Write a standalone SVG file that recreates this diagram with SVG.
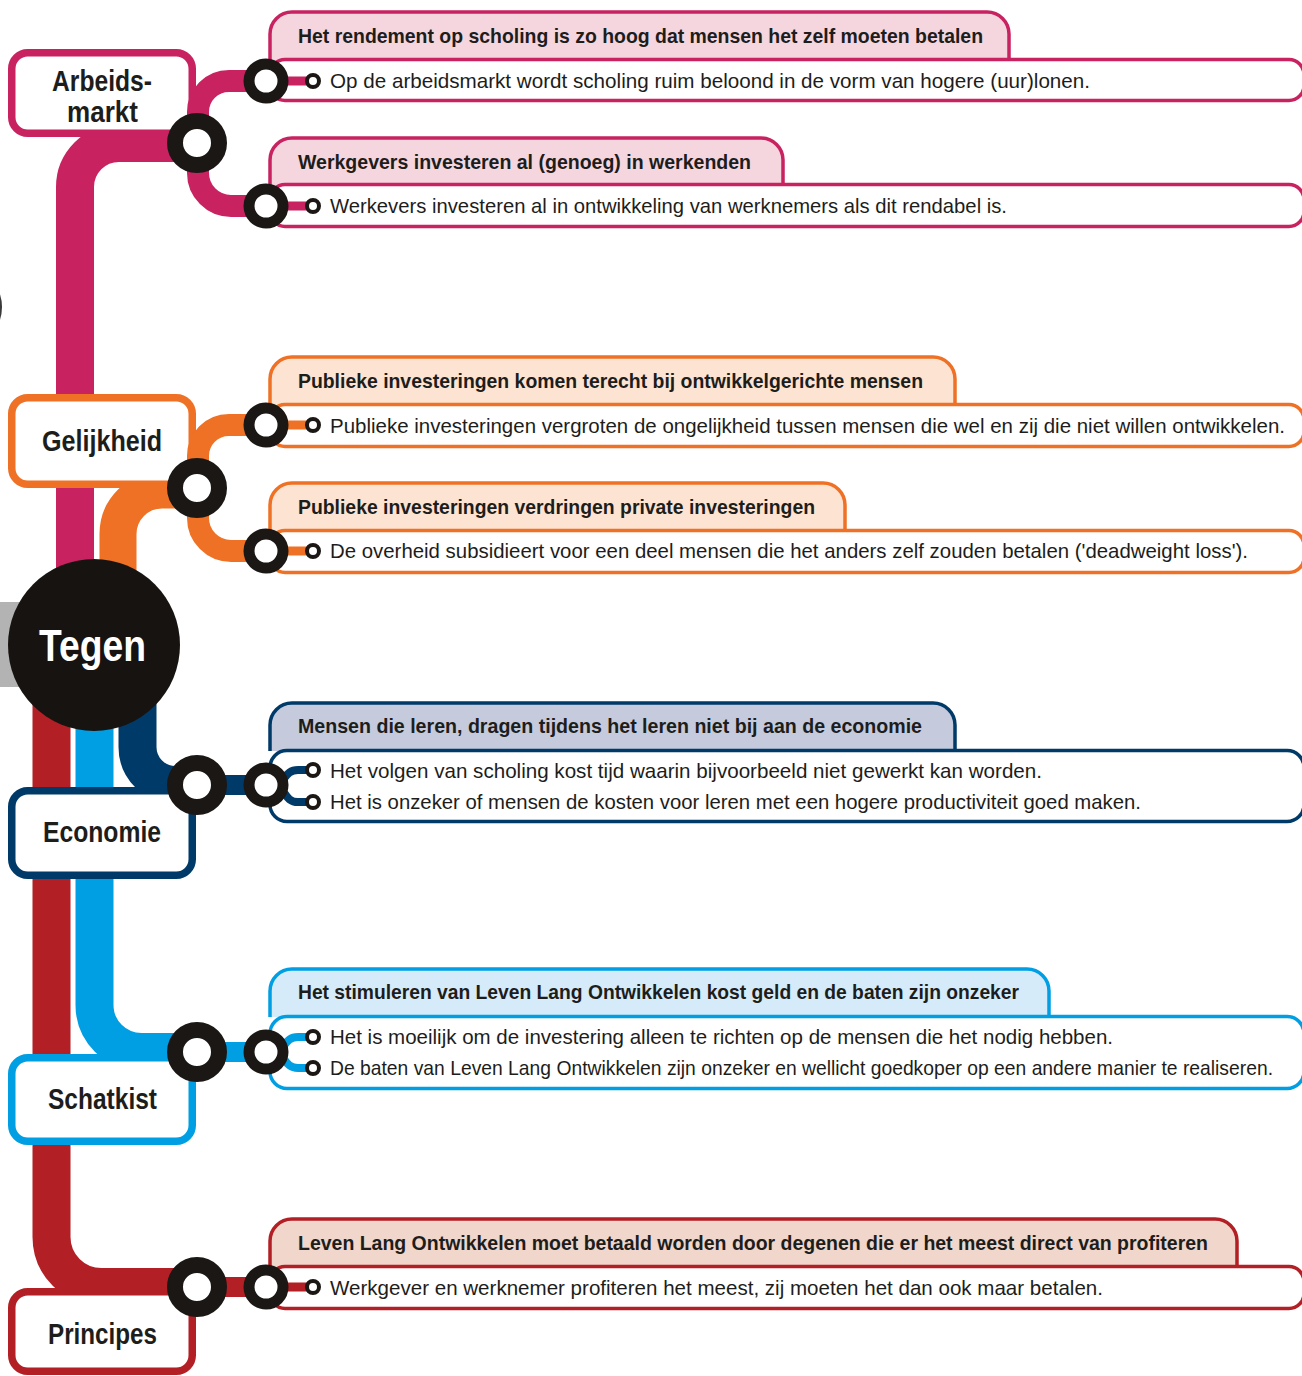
<svg xmlns="http://www.w3.org/2000/svg" width="1302" height="1376" viewBox="0 0 1302 1376">
<style>
.trunk{fill:none;stroke-width:38}
.br{fill:none;stroke-width:22}
.st{fill:none;stroke-width:20}
.bl{fill:none;stroke-width:9}
.bl2{fill:none;stroke-width:8}
.cat{fill:#fff;stroke-width:7.5}
.tab{stroke-width:3.5}
.body{fill:#fff;stroke-width:3.5}
.node{fill:#fff;stroke:#1a1715;stroke-width:16}
.ring{fill:#fff;stroke:#1a1715;stroke-width:11}
.dot{fill:#fff;stroke:#1a1715;stroke-width:4}
.lbl{font-family:"Liberation Sans Narrow","Liberation Sans",Arial,sans-serif;font-weight:bold;font-size:29px;fill:#1d1d1b;text-anchor:start}
.ttl{font-family:"Liberation Sans Narrow","Liberation Sans",Arial,sans-serif;font-weight:bold;font-size:21px;fill:#1d1d1b}
.txt{font-family:"Liberation Sans Narrow","Liberation Sans",Arial,sans-serif;font-size:21px;fill:#1d1d1b}
.m{stroke:#c82360}.o{stroke:#ee7125}.n{stroke:#003a68}.b{stroke:#009fe3}.r{stroke:#b21f24}
</style>
<rect x="0" y="0" width="1302" height="1376" fill="#fff"/>
<circle cx="-40" cy="307" r="42" fill="#3a3a3a"/>
<rect x="0" y="602" width="70" height="85" fill="#b3b3b3"/>

<g id="connectors">
  <path class="trunk m" d="M197 143 H119 A44 44 0 0 0 75 187 V640"/>
  <path class="trunk o" style="stroke-width:37" d="M197 490 H162 A44 44 0 0 0 118 534 V640"/>
  <path class="trunk r" d="M51.5 640 V1237 A50 50 0 0 0 101.5 1287 H197"/>
  <path class="trunk b" d="M94.5 640 V1005 A47 47 0 0 0 141.5 1052 H197"/>
  <path class="trunk n" d="M137.5 640 V747 A38 38 0 0 0 175.5 785 H197"/>
</g>

<g id="node-tegen">
  <circle cx="94" cy="645" r="86" fill="#161311"/>
  <text x="39" y="661" font-family="Liberation Sans Narrow,Liberation Sans,Arial,sans-serif" font-weight="bold" font-size="44" fill="#fff" textLength="107" lengthAdjust="spacingAndGlyphs">Tegen</text>
</g>

<g id="node-arbeidsmarkt">
  <rect class="cat m" x="11.75" y="52.75" width="180.5" height="80.5" rx="16"/>
  <text class="lbl" x="52" y="91" textLength="100" lengthAdjust="spacingAndGlyphs">Arbeids-</text>
  <text class="lbl" x="67" y="122" textLength="71" lengthAdjust="spacingAndGlyphs">markt</text>
</g>
<g id="node-gelijkheid">
  <rect class="cat o" x="11.75" y="397.75" width="180.5" height="86.5" rx="16"/>
  <text class="lbl" x="42" y="451" textLength="120" lengthAdjust="spacingAndGlyphs">Gelijkheid</text>
</g>
<g id="node-economie">
  <rect class="cat n" x="11.75" y="790.75" width="180.5" height="84.5" rx="16"/>
  <text class="lbl" x="43" y="842" textLength="118" lengthAdjust="spacingAndGlyphs">Economie</text>
</g>
<g id="node-schatkist">
  <rect class="cat b" x="11.75" y="1057.75" width="180.5" height="83.5" rx="16"/>
  <text class="lbl" x="48" y="1109" textLength="109" lengthAdjust="spacingAndGlyphs">Schatkist</text>
</g>
<g id="node-principes">
  <rect class="cat r" x="11.75" y="1291.75" width="180.5" height="79.5" rx="16"/>
  <text class="lbl" x="48" y="1344" textLength="109" lengthAdjust="spacingAndGlyphs">Principes</text>
</g>

<!-- Arbeidsmarkt items -->
<g id="item-a1">
  <path class="tab m" fill="#f5d6df" d="M270 60 V34 A22 22 0 0 1 292 12 H987 A22 22 0 0 1 1009 34 V60"/>
  <rect class="body m" x="270" y="59.5" width="1034" height="41" rx="15"/>
  <text class="ttl" x="298" y="43" textLength="685" lengthAdjust="spacingAndGlyphs">Het rendement op scholing is zo hoog dat mensen het zelf moeten betalen</text>
  <text class="txt" x="330" y="88" textLength="760" lengthAdjust="spacingAndGlyphs">Op de arbeidsmarkt wordt scholing ruim beloond in de vorm van hogere (uur)lonen.</text>
</g>
<g id="item-a2">
  <path class="tab m" fill="#f5d6df" d="M270 185 V160 A22 22 0 0 1 292 138 H761 A22 22 0 0 1 783 160 V185"/>
  <rect class="body m" x="270" y="184.5" width="1034" height="42" rx="15"/>
  <text class="ttl" x="298" y="169" textLength="453" lengthAdjust="spacingAndGlyphs">Werkgevers investeren al (genoeg) in werkenden</text>
  <text class="txt" x="330" y="213" textLength="677" lengthAdjust="spacingAndGlyphs">Werkevers investeren al in ontwikkeling van werknemers als dit rendabel is.</text>
</g>
<!-- Gelijkheid items -->
<g id="item-g1">
  <path class="tab o" fill="#fde4d2" d="M270 405 V379 A22 22 0 0 1 292 357 H933 A22 22 0 0 1 955 379 V405"/>
  <rect class="body o" x="270" y="404.5" width="1034" height="42" rx="15"/>
  <text class="ttl" x="298" y="388" textLength="625" lengthAdjust="spacingAndGlyphs">Publieke investeringen komen terecht bij ontwikkelgerichte mensen</text>
  <text class="txt" x="330" y="433" textLength="955" lengthAdjust="spacingAndGlyphs">Publieke investeringen vergroten de ongelijkheid tussen mensen die wel en zij die niet willen ontwikkelen.</text>
</g>
<g id="item-g2">
  <path class="tab o" fill="#fde4d2" d="M270 531 V505 A22 22 0 0 1 292 483 H823 A22 22 0 0 1 845 505 V531"/>
  <rect class="body o" x="270" y="530.5" width="1034" height="42" rx="15"/>
  <text class="ttl" x="298" y="514" textLength="517" lengthAdjust="spacingAndGlyphs">Publieke investeringen verdringen private investeringen</text>
  <text class="txt" x="330" y="558" textLength="918" lengthAdjust="spacingAndGlyphs">De overheid subsidieert voor een deel mensen die het anders zelf zouden betalen ('deadweight loss').</text>
</g>
<!-- Economie -->
<g id="item-e1">
  <path class="tab n" fill="#c5cbdd" d="M270 751 V725 A22 22 0 0 1 292 703 H933 A22 22 0 0 1 955 725 V751"/>
  <rect class="body n" x="270" y="750.5" width="1034" height="71" rx="17"/>
  <text class="ttl" x="298" y="733" textLength="624" lengthAdjust="spacingAndGlyphs">Mensen die leren, dragen tijdens het leren niet bij aan de economie</text>
  <text class="txt" x="330" y="778" textLength="712" lengthAdjust="spacingAndGlyphs">Het volgen van scholing kost tijd waarin bijvoorbeeld niet gewerkt kan worden.</text>
  <text class="txt" x="330" y="809" textLength="811" lengthAdjust="spacingAndGlyphs">Het is onzeker of mensen de kosten voor leren met een hogere productiviteit goed maken.</text>
</g>
<!-- Schatkist -->
<g id="item-s1">
  <path class="tab b" fill="#d5ebfa" d="M270 1017 V991 A22 22 0 0 1 292 969 H1027 A22 22 0 0 1 1049 991 V1017"/>
  <rect class="body b" x="270" y="1016.5" width="1034" height="72" rx="17"/>
  <text class="ttl" x="298" y="999" textLength="721" lengthAdjust="spacingAndGlyphs">Het stimuleren van Leven Lang Ontwikkelen kost geld en de baten zijn onzeker</text>
  <text class="txt" x="330" y="1044" textLength="783" lengthAdjust="spacingAndGlyphs">Het is moeilijk om de investering alleen te richten op de mensen die het nodig hebben.</text>
  <text class="txt" x="330" y="1075" textLength="943" lengthAdjust="spacingAndGlyphs">De baten van Leven Lang Ontwikkelen zijn onzeker en wellicht goedkoper op een andere manier te realiseren.</text>
</g>
<!-- Principes -->
<g id="item-p1">
  <path class="tab r" fill="#f0d6cb" d="M270 1267 V1241 A22 22 0 0 1 292 1219 H1215 A22 22 0 0 1 1237 1241 V1267"/>
  <rect class="body r" x="270" y="1266.5" width="1034" height="42" rx="15"/>
  <text class="ttl" x="298" y="1250" textLength="910" lengthAdjust="spacingAndGlyphs">Leven Lang Ontwikkelen moet betaald worden door degenen die er het meest direct van profiteren</text>
  <text class="txt" x="330" y="1295" textLength="773" lengthAdjust="spacingAndGlyphs">Werkgever en werknemer profiteren het meest, zij moeten het dan ook maar betalen.</text>
</g>

<g id="branches">
  <path class="br m" d="M198 143 V112 A31 31 0 0 1 229 81 H266"/>
  <path class="br m" d="M198 143 V173 A33 33 0 0 0 231 206 H266"/>
  <path class="br o" d="M198 488 V456 A31 31 0 0 1 229 425 H266"/>
  <path class="br o" d="M198 488 V518 A33 33 0 0 0 231 551 H266"/>
  <path class="st n" d="M197 785 H266"/>
  <path class="st b" d="M197 1052 H266"/>
  <path class="st r" d="M197 1287 H266"/>
  <path class="bl m" d="M266 81 H313"/>
  <path class="bl m" d="M266 206 H313"/>
  <path class="bl o" d="M266 425 H313"/>
  <path class="bl o" d="M266 551 H313"/>
  <path class="bl r" d="M266 1287 H313"/>
  <path class="bl2 n" d="M272 785 C286 785 283 770 298 770 H313"/>
  <path class="bl2 n" d="M272 785 C286 785 283 802 298 802 H313"/>
  <path class="bl2 b" d="M272 1052 C286 1052 283 1037 298 1037 H313"/>
  <path class="bl2 b" d="M272 1052 C286 1052 283 1068 298 1068 H313"/>
</g>

<g id="stations">
  <circle class="node" cx="197" cy="143" r="22"/>
  <circle class="node" cx="197" cy="488" r="22"/>
  <circle class="node" cx="197" cy="785" r="22"/>
  <circle class="node" cx="197" cy="1052" r="22"/>
  <circle class="node" cx="197" cy="1287" r="22"/>
  <circle class="ring" cx="266" cy="81" r="17"/>
  <circle class="ring" cx="266" cy="206" r="17"/>
  <circle class="ring" cx="266" cy="425" r="17"/>
  <circle class="ring" cx="266" cy="551" r="17"/>
  <circle class="ring" cx="266" cy="785" r="17"/>
  <circle class="ring" cx="266" cy="1052" r="17"/>
  <circle class="ring" cx="266" cy="1287" r="17"/>
  <circle class="dot" cx="313" cy="81" r="6"/>
  <circle class="dot" cx="313" cy="206" r="6"/>
  <circle class="dot" cx="313" cy="425" r="6"/>
  <circle class="dot" cx="313" cy="551" r="6"/>
  <circle class="dot" cx="313" cy="770" r="6"/>
  <circle class="dot" cx="313" cy="802" r="6"/>
  <circle class="dot" cx="313" cy="1037" r="6"/>
  <circle class="dot" cx="313" cy="1068" r="6"/>
  <circle class="dot" cx="313" cy="1287" r="6"/>
</g>
</svg>
